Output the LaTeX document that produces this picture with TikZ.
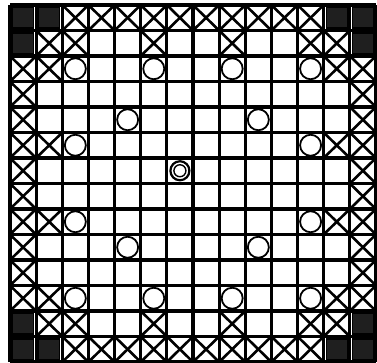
\documentclass[tikz,border=0pt]{standalone}
\usepackage{tikz}
\usetikzlibrary{calc}
\definecolor{cellgrey}{gray}{0.12}
\tikzset{
  gridln/.style={line width=3.2pt},
  crossln/.style={line width=2.6pt,line cap=round},
  darkcell/.style={fill=cellgrey,draw=black,line width=1.2pt},
  hole/.style={draw,line width=1.8pt,fill=white},
}
\begin{document}
\begin{tikzpicture}[x=26.14pt,y=-25.5pt]
\useasboundingbox (-10pt,5pt) rectangle (367pt,-358pt);

% dark corner cells
\foreach \c/\r in {1/1,2/1,13/1,14/1,1/2,14/2,1/13,14/13,1/14,2/14,13/14,14/14}
  \draw[darkcell] ($(\c-1,\r-1)+(2.5pt,-2.5pt)$) rectangle ($(\c,\r)+(-2.5pt,2.5pt)$);

% crossed cells
\foreach \c/\r in {3/1,4/1,5/1,6/1,7/1,8/1,9/1,10/1,11/1,12/1,
                   2/2,3/2,6/2,9/2,12/2,13/2,
                   1/3,2/3,13/3,14/3, 1/4,14/4, 1/5,14/5,
                   1/6,2/6,13/6,14/6, 1/7,14/7, 1/8,14/8,
                   1/9,2/9,13/9,14/9, 1/10,14/10, 1/11,14/11,
                   1/12,2/12,13/12,14/12,
                   2/13,3/13,6/13,9/13,12/13,13/13,
                   3/14,4/14,5/14,6/14,7/14,8/14,9/14,10/14,11/14,12/14}
{
  \draw[crossln] (\c-1,\r-1) -- (\c,\r);
  \draw[crossln] (\c-1,\r) -- (\c,\r-1);
}

% grid
\foreach \i in {0,...,14} {
  \draw[gridln] (\i,0) -- (\i,14);
  \draw[gridln] (0,\i) -- (14,\i);
}

% holes
\foreach \c/\r in {3/3,6/3,9/3,12/3, 5/5,10/5, 3/6,12/6,
                   3/9,12/9, 5/10,10/10, 3/12,6/12,9/12,12/12}
  \node[hole,circle,minimum size=21pt,inner sep=0pt] (h-\c-\r) at (\c-0.5,\r-0.5) {};

% centre hole
\node[hole,circle,minimum size=19pt,inner sep=0pt,line width=2.2pt] (ctr) at (6.5,6.5) {};
\node[circle,draw,minimum size=12pt,inner sep=0pt,line width=1.4pt] (ctrin) at (ctr) {};
\end{tikzpicture}
\end{document}
